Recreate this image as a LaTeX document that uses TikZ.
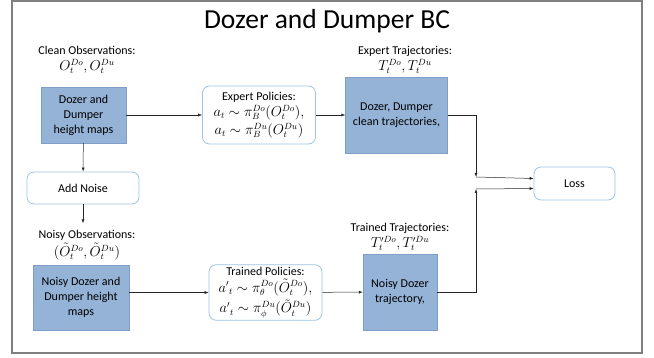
\documentclass[tikz,border=0pt]{standalone}
\usepackage{amsmath}
\usepackage{fontspec}
\setmainfont{Carlito}
\usepackage{xcolor}
\usetikzlibrary{arrows.meta,
                calc,
                positioning}
\definecolor{boxfill}{HTML}{95B3D7}
\definecolor{boxline}{HTML}{7F9FC8}
\definecolor{rline}{HTML}{9DC3E6}
\definecolor{frame}{HTML}{7F7F7F}
\newcommand{\mline}[1]{{\fontsize{13.5}{17}\selectfont$#1$}}
\tikzset{
        base/.style={align=center, font=\fontsize{12}{15}\selectfont, inner sep=2pt},
        filled/.style={base, rectangle, draw=boxline, fill=boxfill},
        rbox/.style={base, rectangle, rounded corners=7pt, draw=rline, line width=0.8pt, fill=white},
        lbl/.style={base},
        myarrow/.style={-{Latex[length=4pt,width=3pt]}, line width=0.5pt, draw=black!85},
 }
\begin{document}
\begin{tikzpicture}[x=1pt,y=-1pt]
    \useasboundingbox (0,0) rectangle (654,358);
    \draw[frame, line width=1.5pt] (12,1) rectangle (642,353);
    \node[base, font=\fontsize{27.5}{31}\selectfont] (title) at (327,21) {Dozer and Dumper BC};

    % top row
    \node[filled, minimum width=85pt, minimum height=56pt] (hmaps) at (83.5,115)
         {Dozer and\\Dumper\\height maps};
    \node[lbl] (cleanobs) at (87,60) {Clean Observations:\\[1pt]\mline{O_t^{Do}, O_t^{Du}}};
    \node[rbox, minimum width=113pt, minimum height=58pt] (expert) at (259,115)
         {Expert Policies:\\[1pt]\mline{a_t\sim\pi_B^{Do}(O_t^{Do}),}\\[3pt]\mline{a_t\sim\pi_B^{Du}(O_t^{Du})}};
    \node[filled, minimum width=102pt, minimum height=76pt] (cleantraj) at (396.5,115)
         {Dozer, Dumper\\clean trajectories,};
    \node[lbl] (experttraj) at (405,60) {Expert Trajectories:\\[1pt]\mline{T_t^{Do}, T_t^{Du}}};
    \node[rbox, minimum width=81pt, minimum height=33pt] (loss) at (574.5,183.5) {Loss};

    % bottom row
    \node[rbox, minimum width=112pt, minimum height=32pt] (noise) at (83,188) {Add Noise};
    \node[lbl] (noisyobs) at (87,245) {Noisy Observations:\\[2pt]\mline{(\tilde O_t^{Do}, \tilde O_t^{Du})}};
    \node[filled, minimum width=96pt, minimum height=65pt] (noisymaps) at (81,297.5)
         {Noisy Dozer and\\Dumper height\\maps};
    \node[rbox, minimum width=113pt, minimum height=53pt] (trained) at (265.5,292.5)
         {Trained Policies:\\[2pt]\mline{{a'}_t\sim\pi_\theta^{Do}(\tilde O_t^{Do}),}\\[3pt]\mline{{a'}_t\sim\pi_\phi^{Du}(\tilde O_t^{Du})}};
    \node[filled, minimum width=74pt, minimum height=76pt] (noisytraj) at (400,292) {Noisy Dozer\\trajectory,};
    \node[lbl] (trainedtraj) at (400,237) {Trained Trajectories:\\[1pt]\mline{T'^{Do}_t, T'^{Du}_t}};

    \coordinate (j1) at (476,177);
    \coordinate (j2) at (476,189);

    \draw[myarrow] (hmaps) -- (expert);
    \draw[myarrow] (expert) -- (cleantraj);
    \draw[myarrow] (cleantraj.east) -| (j1);
    \draw[myarrow] (j1) -- ($(loss.west)+(0,-5)$);
    \draw[myarrow] (noisytraj.east) -| (j2);
    \draw[myarrow] (j2) -- ($(loss.west)+(0,5)$);
    \draw[myarrow] (hmaps) -- (noise);
    \draw[myarrow] (noise.south) -- ++(0,19) coordinate (n1);
    \draw[myarrow] (trained.west -| noisymaps.east) -- (trained.west);
    \draw[myarrow] (trained) -- (noisytraj);
\end{tikzpicture}
\end{document}
